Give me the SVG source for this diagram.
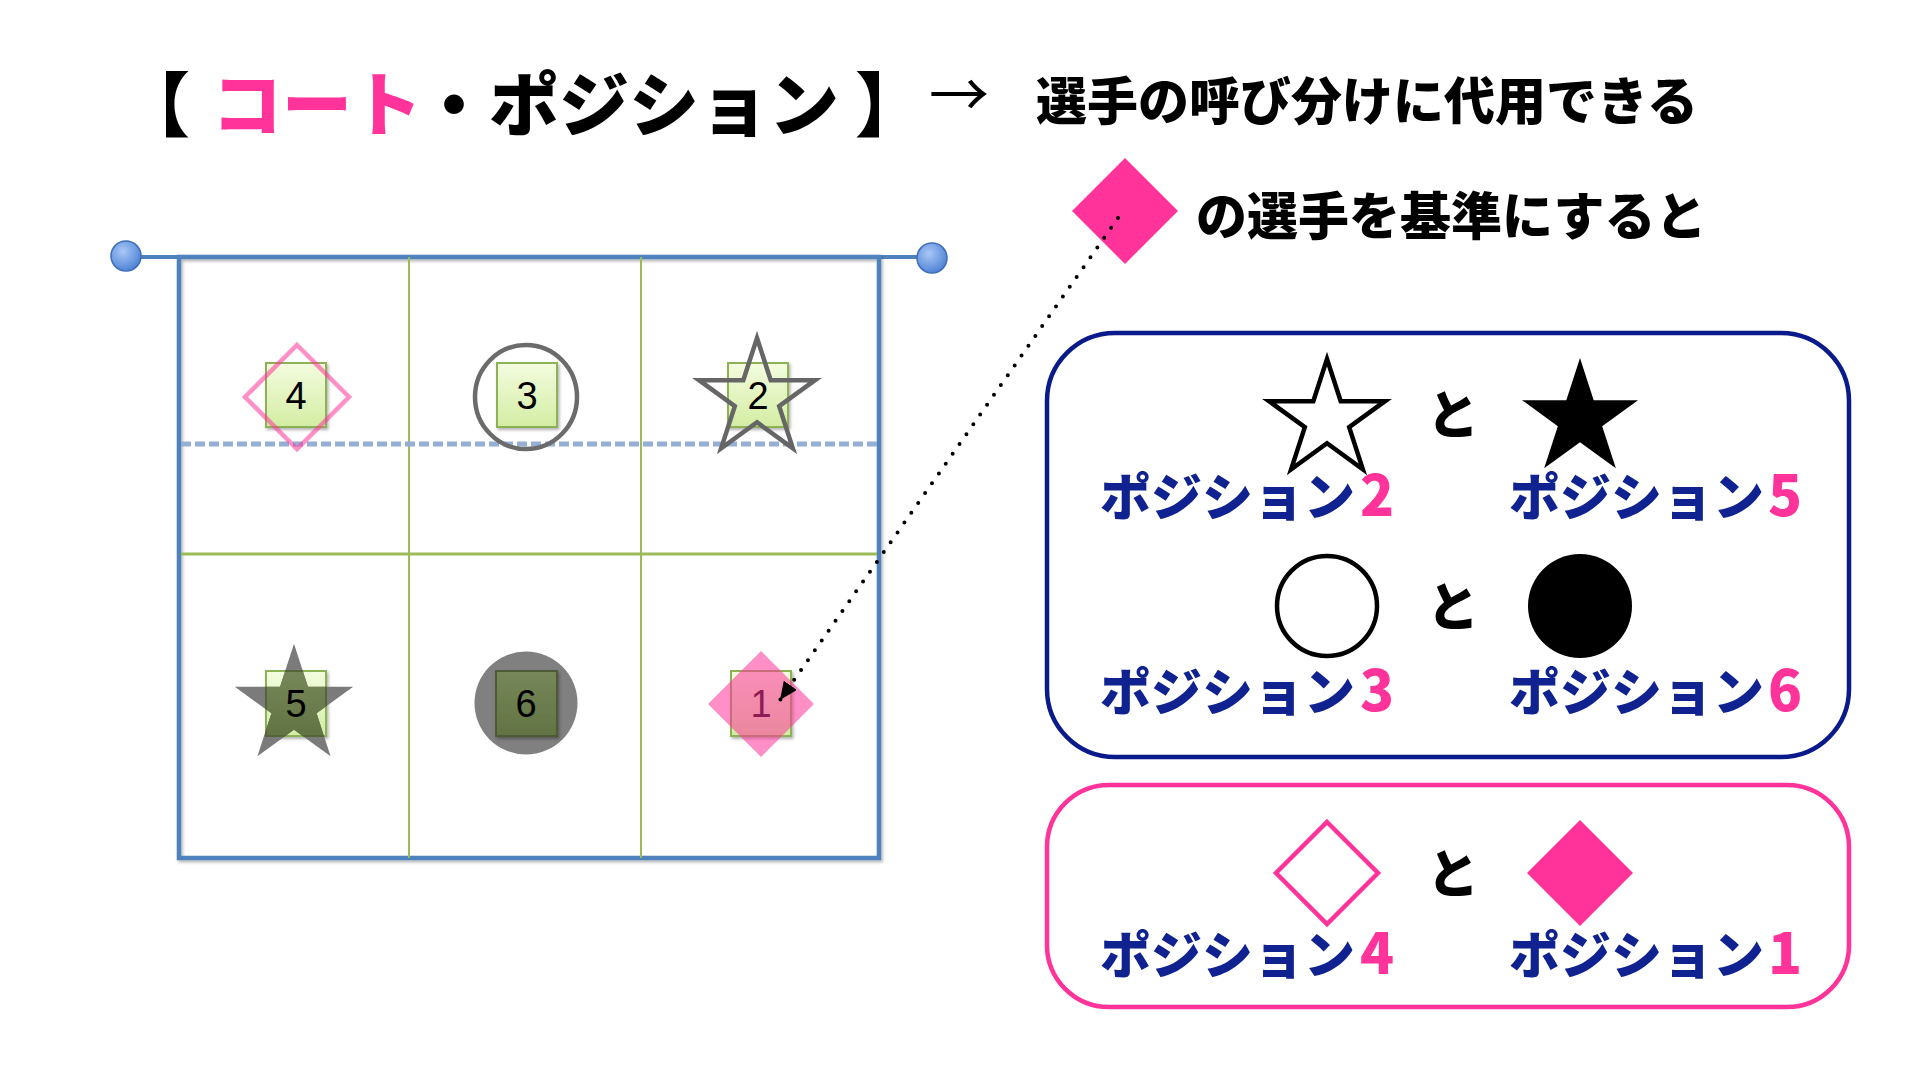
<svg xmlns="http://www.w3.org/2000/svg" width="1920" height="1080" viewBox="0 0 1920 1080">
<style>
.jp{font-family:"Noto Sans CJK JP","Noto Sans CJK SC",sans-serif;font-weight:900}
.lbl{font-family:"Noto Sans CJK JP",sans-serif;font-weight:900;font-size:51px;fill:#0f2290}
.dg{fill:#ff3399;font-size:56px}
.to{font-family:"Noto Sans CJK JP",sans-serif;font-weight:900;font-size:52px;fill:#000;text-anchor:middle}
.num{font-family:"Liberation Sans",Arial,sans-serif;font-size:38px;text-anchor:middle;fill:#000}
.sq{fill:url(#gGreen);stroke:#8db255;stroke-width:2;filter:url(#sh)}
.court{stroke:#4f81bd;stroke-width:4.5;fill:none}
.grid{stroke:#9bbb59;fill:none}
</style>
<defs>
<linearGradient id="gGreen" x1="0" y1="0" x2="0" y2="1">
<stop offset="0" stop-color="#f3fcdf"/>
<stop offset="1" stop-color="#d3eda3"/>
</linearGradient>
<linearGradient id="gOlive" x1="0" y1="0" x2="0" y2="1">
<stop offset="0" stop-color="#768759"/>
<stop offset="1" stop-color="#627343"/>
</linearGradient>
<radialGradient id="gDot" cx="0.4" cy="0.35" r="0.7">
<stop offset="0" stop-color="#a9c8f6"/>
<stop offset="1" stop-color="#4a7fd4"/>
</radialGradient>
<filter id="sh" x="-20%" y="-20%" width="150%" height="150%">
<feDropShadow dx="1.5" dy="2" stdDeviation="1.5" flood-color="#000" flood-opacity="0.3"/>
</filter>
<path id="star" d="M0,-61 L13.7,-18.85 L58.02,-18.85 L22.16,7.2 L35.86,49.35 L0,23.3 L-35.86,49.35 L-22.16,7.2 L-58.02,-18.85 L-13.7,-18.85 Z"/>
<clipPath id="clip5">
<path transform="translate(294,706) scale(1.02)" d="M0,-61 L13.7,-18.85 L58.02,-18.85 L22.16,7.2 L35.86,49.35 L0,23.3 L-35.86,49.35 L-22.16,7.2 L-58.02,-18.85 L-13.7,-18.85 Z"/>
</clipPath>
<marker id="arr" markerUnits="userSpaceOnUse" markerWidth="20" markerHeight="18" refX="18" refY="8" orient="auto">
<path d="M0,0 L18,8 L0,16 Z" fill="#000"/>
</marker>
</defs>
<rect width="1920" height="1080" fill="#fff"/>

<g id="title">
<text class="jp" y="131" font-size="70" fill="#000"><tspan x="120">【</tspan><tspan x="212" fill="#ff3399">コート</tspan><tspan x="419">・ポジション</tspan><tspan x="855">】</tspan></text>
<text x="929" y="117" font-family="Noto Sans CJK JP,sans-serif" font-size="60" fill="#000">→</text>
<text class="jp" x="1036" y="120" font-size="51" fill="#000">選手の呼び分けに代用できる</text>
</g>

<g id="reference-diamond">
<polygon points="1125,158 1178,211 1125,264 1072,211" fill="#ff3399"/>
<text class="jp" x="1196" y="235" font-size="51" fill="#000">の選手を基準にすると</text>
</g>

<g id="court">
<line x1="126" y1="257" x2="932" y2="257" stroke="#4f81bd" stroke-width="4"/>
<rect x="179" y="257" width="700" height="601" class="court" filter="url(#sh)"/>
<line x1="409" y1="257" x2="409" y2="858" class="grid" stroke-width="2"/>
<line x1="641" y1="257" x2="641" y2="858" class="grid" stroke-width="2"/>
<line x1="181" y1="554" x2="877" y2="554" class="grid" stroke-width="3"/>
<line x1="181" y1="444" x2="877" y2="444" stroke="#94aed4" stroke-width="5" stroke-dasharray="10 4"/>
<circle cx="126" cy="256" r="15" fill="url(#gDot)" stroke="#3d6fb8" stroke-width="1.5"/>
<circle cx="932" cy="258" r="15" fill="url(#gDot)" stroke="#3d6fb8" stroke-width="1.5"/>
</g>

<g id="pos4">
<rect x="266" y="363" width="60" height="64" class="sq"/>
<text x="296" y="409" class="num">4</text>
<polygon points="297,345 349,397 297,449 245,397" fill="none" stroke="#ff3399" stroke-opacity="0.55" stroke-width="4.5"/>
</g>
<g id="pos3">
<rect x="497" y="363" width="60" height="64" class="sq"/>
<text x="527" y="409" class="num">3</text>
<ellipse cx="526" cy="397" rx="51" ry="52" fill="none" stroke="#6b6b6b" stroke-width="4.5"/>
</g>
<g id="pos2">
<rect x="728" y="363" width="60" height="64" class="sq"/>
<text x="758" y="409" class="num">2</text>
<use href="#star" transform="translate(757,399)" fill="none" stroke="#666" stroke-width="4.5" stroke-linejoin="miter"/>
</g>
<g id="pos5">
<rect x="266" y="671" width="60" height="65" class="sq"/>
<use href="#star" transform="translate(294,706) scale(1.02)" fill="#7b7b7b"/>
<rect x="266" y="671" width="60" height="65" fill="url(#gOlive)" stroke="#56643a" stroke-width="2" clip-path="url(#clip5)"/>
<text x="296" y="717" class="num">5</text>
</g>
<g id="pos6">
<ellipse cx="526" cy="703" rx="51.5" ry="51.5" fill="#808080"/>
<rect x="496" y="671" width="61" height="65" fill="url(#gOlive)" stroke="#4e5a36" stroke-width="2" filter="url(#sh)"/>
<text x="526" y="717" class="num">6</text>
</g>
<g id="pos1">
<rect x="731" y="671" width="60" height="65" class="sq"/>
<text x="761" y="717" class="num">1</text>
<polygon points="761,651 814,704 761,757 708,704" fill="#ff3399" fill-opacity="0.55"/>
</g>

<g id="connectors">
<line x1="1118" y1="218" x2="780" y2="700" stroke="#000" stroke-width="4" stroke-linecap="round" stroke-dasharray="0 12" marker-end="url(#arr)"/>
</g>

<g id="legend-stars-circles">
<rect x="1047" y="333" width="802" height="424" rx="68" ry="68" fill="none" stroke="#0a1a8a" stroke-width="4.5"/>
<use href="#star" transform="translate(1327,420)" fill="#fff" stroke="#000" stroke-width="4.5"/>
<text x="1453" y="434" class="to">と</text>
<use href="#star" transform="translate(1580,419)" fill="#000"/>
<text class="lbl" y="516"><tspan x="1100">ポジション</tspan><tspan x="1360" class="dg">2</tspan></text>
<text class="lbl" y="516"><tspan x="1509">ポジション</tspan><tspan x="1768" class="dg">5</tspan></text>
<circle cx="1327" cy="606" r="50" fill="#fff" stroke="#000" stroke-width="4.5"/>
<text x="1453" y="626" class="to">と</text>
<circle cx="1580" cy="606" r="52" fill="#000"/>
<text class="lbl" y="711"><tspan x="1100">ポジション</tspan><tspan x="1360" class="dg">3</tspan></text>
<text class="lbl" y="711"><tspan x="1509">ポジション</tspan><tspan x="1768" class="dg">6</tspan></text>
</g>

<g id="legend-diamonds">
<rect x="1047" y="785" width="802" height="222" rx="62" ry="62" fill="none" stroke="#ff3399" stroke-width="4.5"/>
<polygon points="1327,822 1378,873 1327,924 1276,873" fill="#fff" stroke="#ff3399" stroke-width="4.5"/>
<text x="1453" y="893" class="to">と</text>
<polygon points="1580,820 1633,873 1580,926 1527,873" fill="#ff3399"/>
<text class="lbl" y="974"><tspan x="1100">ポジション</tspan><tspan x="1360" class="dg">4</tspan></text>
<text class="lbl" y="974"><tspan x="1509">ポジション</tspan><tspan x="1768" class="dg">1</tspan></text>
</g>
</svg>
